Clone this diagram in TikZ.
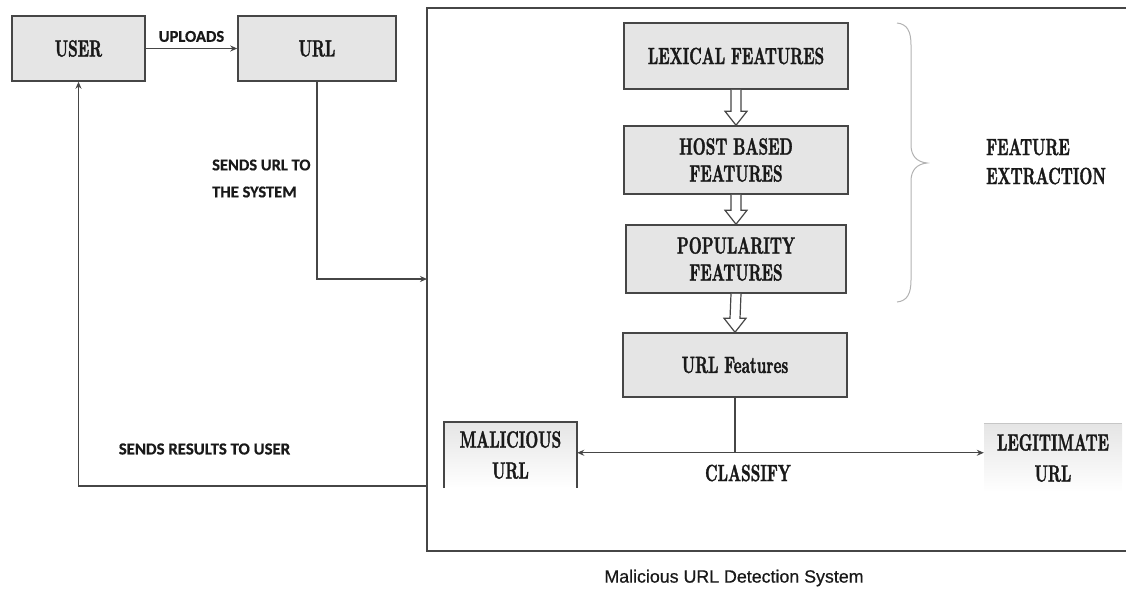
\documentclass[tikz,border=0pt]{standalone}
\usepackage{fontspec}
\usetikzlibrary{arrows.meta,calc}
\newfontfamily\carl{Carlito}[FakeBold=0.6]
\newfontfamily\serb{lmroman10-bold.otf}[FakeStretch=0.64,FakeBold=1.4]
\newfontfamily\lsans{Liberation Sans}[FakeBold=0.6]
\definecolor{boxfill}{RGB}{229,229,229}
\definecolor{edge}{RGB}{70,70,70}
\definecolor{ink}{RGB}{25,25,25}
\newcommand\hollowarr[2]{%
  \draw[hollow] ($(#1.south)+(-5,0)$) -- ($(#2.north)+(-5,-14)$) -- ($(#2.north)+(-11,-14)$) -- (#2.north)
    -- ($(#2.north)+(11,-14)$) -- ($(#2.north)+(5,-14)$) -- ($(#1.south)+(5,0)$);}
\begin{document}
\begin{tikzpicture}[x=1pt,y=-1pt,
  fbox/.style={draw=edge, line width=1.5pt, fill=boxfill, inner sep=0pt, align=center, text=ink,
    font=\serb\fontsize{23.5}{27}\selectfont},
  rbox/.style={inner sep=0pt, align=center, text=ink, top color=boxfill, bottom color=white,
    font=\serb\fontsize{23.5}{31}\selectfont},
  conn/.style={draw=edge, line width=1.2pt, -{Stealth[length=7pt,width=6pt]}},
  plain/.style={draw=edge, line width=1.2pt},
  lbl/.style={text=ink, font=\carl\bfseries\fontsize{16.5}{27}\selectfont, inner sep=0pt, align=left},
  hollow/.style={draw=edge, line width=1.2pt, fill=white, line join=miter},
]
\useasboundingbox (0,0) rectangle (1126,590);

% system frame
\draw[draw=edge, line width=1.5pt] (1126,8) -- (427,8) -- (427,551) -- (1126,551);
\coordinate (sysin) at (427,279);
\coordinate (sysout) at (427,486);

% top row
\node[fbox, minimum width=133pt, minimum height=65pt] (user) at (78.5,48.5) {USER};
\node[fbox, minimum width=158pt, minimum height=65pt] (url) at (317,48.5) {URL};

% feature column
\node[fbox, minimum width=224pt, minimum height=66pt] (lex) at (736,56) {LEXICAL FEATURES};
\node[fbox, minimum width=224pt, minimum height=68pt] (host) at (736,160) {HOST BASED\\FEATURES};
\node[fbox, minimum width=220pt, minimum height=68pt] (pop) at (736,259) {POPULARITY\\FEATURES};
\node[fbox, minimum width=224pt, minimum height=64pt] (uf) at (735,365) {URL Features};

\hollowarr{lex}{host}
\hollowarr{host}{pop}
\hollowarr{pop}{uf}

% results
\node[rbox, minimum width=133pt, minimum height=66pt] (mal) at (510.5,455) {MALICIOUS\\URL};
\draw[plain, line width=1.5pt] (mal.south west) -- (mal.north west) -- (mal.north east) -- (mal.south east);
\node[rbox, minimum width=138pt, minimum height=68pt] (leg) at (1053,458) {LEGITIMATE\\URL};
\draw[draw=gray!45, line width=1.2pt] (leg.north west) -- (leg.north east);

% brace
\draw[draw=gray!60, line width=1pt] (897,23) .. controls (907,24) and (911,31) .. (911,45) -- (911,145)
  .. controls (911,156) and (917,162) .. (927,163) .. controls (917,164) and (911,170) .. (911,181)
  -- (911,280) .. controls (911,294) and (907,301) .. (897,302);
\node[anchor=west, inner sep=0pt, align=left, text=ink, font=\serb\fontsize{23.5}{29}\selectfont] (fe) at (986,161.5) {FEATURE\\EXTRACTION};

% connectors
\draw[conn] (user.east) -- node[lbl, above=6pt, align=center] (up) {UPLOADS} (url.west);
\draw[conn] (url.south) |- (sysin);
\node[lbl, anchor=west] (sendurl) at (212,178.5) {SENDS URL TO\\THE SYSTEM};
\draw[conn] (sysout) -| (user.south);
\node[lbl, font=\carl\bfseries\fontsize{16.8}{20}\selectfont] (sendres) at (204.5,449) {SENDS RESULTS TO USER};

\draw[plain] (uf.south) -- ++(0,55) coordinate (split);
\draw[conn] (split) -- (split -| mal.east);
\draw[conn] (split) -- (split -| leg.west);
\node[inner sep=0pt, text=ink, font=\serb\fontsize{23.5}{27}\selectfont] (cls) at (748,473) {CLASSIFY};

\node[inner sep=0pt, text=ink, font=\lsans\fontsize{17.8}{20}\selectfont] (title) at (734,578) {Malicious URL Detection System};
\end{tikzpicture}
\end{document}
